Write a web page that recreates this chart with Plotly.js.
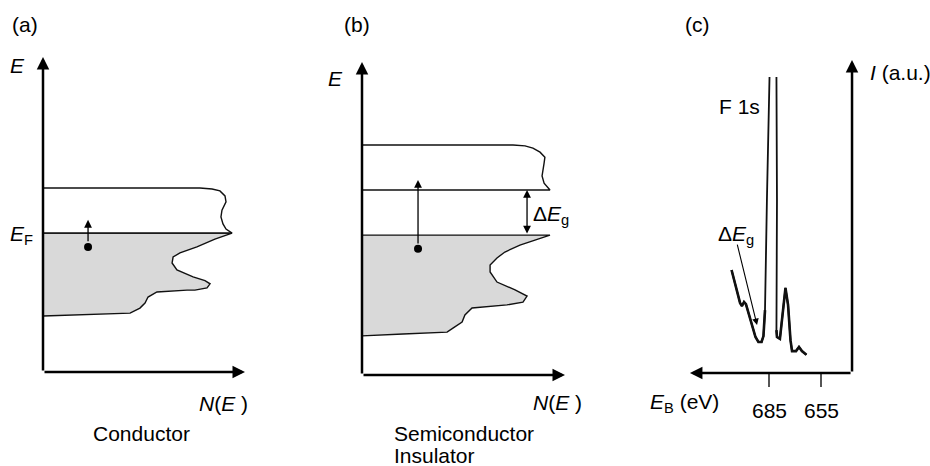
<!DOCTYPE html>
<html><head><meta charset="utf-8">
<script src="https://cdn.plot.ly/plotly-3.0.1.min.js"></script>
<style>html,body{margin:0;padding:0;background:#fff}</style>
</head><body><div id="chart" style="width:930px;height:466px"></div>
<script>
// ---------- DATA ----------
// Panel (a): conductor, density of states N(E) vs energy E (arbitrary units, axis length 100)
const condA_N = [0, 77.7, 83.7, 87.6, 90.1, 90.6, 88.6, 88.1, 89.1, 90.6, 93.6];
const condA_E = [58.4, 58.4, 58.1, 57.5, 55.9, 54.0, 51.4, 49.2, 47.0, 45.4, 44.1];
const fermiA_N = [0, 93.6];
const fermiA_E = [44.1, 44.1];
const valA_N = [0, 93.6, 85.1, 76.2, 67.8, 64.4, 63.9, 66.3, 74.3, 80.2, 82.7, 81.2, 75.2, 71.3, 56.4, 52.0, 50.5, 48.0, 43.1, 26.7, 0];
const valA_E = [44.1, 44.1, 42.2, 39.7, 37.8, 36.5, 34.6, 32.4, 30.2, 29.0, 28.0, 26.7, 26.0, 26.0, 25.4, 23.8, 21.9, 20.3, 18.7, 18.4, 17.8];
const electronA_N = [22.3];
const electronA_E = [39.7];
const exciteA_N = [22.3, 22.3];
const exciteA_E = [41.0, 48.3];

// Panel (b): semiconductor / insulator
const condB_N = [0, 74.4, 80.3, 84.2, 87.7, 90.1, 89.7, 89.2, 88.7, 89.7, 92.6, 0];
const condB_E = [73.5, 73.5, 73.2, 72.5, 71.2, 69.6, 67.7, 65.5, 63.6, 61.3, 59.1, 59.1];
const valB_N = [0, 92.6, 85.2, 77.8, 70.4, 66.5, 63.1, 63.1, 66.5, 75.4, 81.3, 79.3, 71.4, 54.2, 50.7, 49.3, 44.8, 41.9, 20.2, 0];
const valB_E = [44.7, 44.7, 43.1, 41.5, 39.3, 37.4, 35.1, 32.9, 29.7, 27.2, 25.2, 23.3, 22.4, 21.4, 19.2, 16.9, 15.0, 13.7, 13.1, 12.5];
const gapB_N = [81.3, 81.3];
const gapB_E = [44.7, 59.1];
const electronB_N = [27.6];
const electronB_E = [40.3];
const exciteB_N = [27.6, 27.6];
const exciteB_E = [41.5, 62.3];

// Panel (c): XPS spectrum, binding energy (eV) vs intensity (a.u.)
const specE = [706.6, 704.6, 702.9, 701.7, 700.6, 699.4, 698.3, 696.8, 694.8, 692.8, 691.1, 689.3, 688.2, 687.3, 686.2, 684.7, null,
               680.7, 680.4, 680.7, 680.4, 678.7, 676.9, 675.5, 674.0, 672.6, 671.7, 669.4, 667.7, 666.0, 663.4];
const specI = [32.9, 28.8, 24.6, 22.4, 21.4, 22.7, 22.0, 19.2, 14.7, 11.5, 9.9, 9.9, 11.8, 20.1, 55.3, 94.6, null,
               94.6, 55.3, 13.7, 11.5, 10.9, 20.1, 27.2, 21.7, 10.5, 7.0, 7.0, 8.3, 7.0, 5.8];
const tickVals = [685, 655];
const tickText = ['685', '655'];
const axisC_E = [637.1, 730.6];   // origin and arrow tip of the E_B axis
const gapC_E = [703.5, 691.9];
const gapC_I = [41.5, 15.3];

// ---------- LAYOUT HELPERS ----------
const W = 930, H = 466;
const FONT = 'Liberation Sans, Arial, Helvetica, sans-serif';
const FS = 21;
function xRange(left, right, p0, v0, s) { return [v0 + (left - p0) / s, v0 + (right - p0) / s]; }
function yRange(p0, s) { return [(p0 - H) / s, p0 / s]; }
const gA = {left: 0, right: 310, px0: 43, sx: 2.02, py0: 372, sy: 3.15};
const gB = {left: 310, right: 620, px0: 362, sx: 2.03, py0: 375, sy: 3.13};
const gC = {left: 620, right: 930, px0: 769, vx0: 685, sx: -52 / 30, py0: 373, sy: 3.13};

function ax(g, v0) {
  return {domain: [g.left / W, g.right / W], range: xRange(g.left, g.right, g.px0, v0, g.sx),
          visible: false, fixedrange: true};
}
function ay(g, anchor) {
  return {domain: [0, 1], range: yRange(g.py0, g.sy), visible: false, fixedrange: true, anchor: anchor};
}

function arrow(xr, yr, x0, y0, x1, y1, w, size, both) {
  return {xref: xr, yref: yr, axref: xr, ayref: yr, x: x1, y: y1, ax: x0, ay: y0,
          text: '', showarrow: true, arrowhead: 2, arrowsize: size, arrowwidth: w,
          arrowcolor: '#000', standoff: 0, startstandoff: 0,
          arrowside: both ? 'end+start' : 'end', startarrowhead: 2, startarrowsize: size};
}
function label(px, py, text, xa, opts) {
  return Object.assign({xref: 'paper', yref: 'paper', x: px / W, y: 1 - py / H, text: text,
          showarrow: false, xanchor: xa || 'center', yanchor: 'middle',
          font: {family: FONT, size: FS, color: '#000'}}, opts || {});
}

const lineBand = {color: '#111', width: 1.4};
// thick baseline part of the spectrum (low-intensity points), thinner flanks of the F 1s peak
const baseI = specI.map(v => (v !== null && v < 40) ? v : null);
const traces = [
  // panel a
  {x: valA_N, y: valA_E, xaxis: 'x', yaxis: 'y', mode: 'lines', fill: 'toself', fillcolor: '#d9d9d9', line: lineBand},
  {x: condA_N, y: condA_E, xaxis: 'x', yaxis: 'y', mode: 'lines', line: lineBand},
  {x: fermiA_N, y: fermiA_E, xaxis: 'x', yaxis: 'y', mode: 'lines', line: lineBand},
  {x: electronA_N, y: electronA_E, xaxis: 'x', yaxis: 'y', mode: 'markers', marker: {color: '#000', size: 8}},
  // panel b
  {x: valB_N, y: valB_E, xaxis: 'x2', yaxis: 'y2', mode: 'lines', fill: 'toself', fillcolor: '#d9d9d9', line: lineBand},
  {x: condB_N, y: condB_E, xaxis: 'x2', yaxis: 'y2', mode: 'lines', line: lineBand},
  {x: electronB_N, y: electronB_E, xaxis: 'x2', yaxis: 'y2', mode: 'markers', marker: {color: '#000', size: 8}},
  // panel c
  {x: specE, y: specI, xaxis: 'x3', yaxis: 'y3', mode: 'lines', connectgaps: false, line: {color: '#111', width: 1.8}},
  {x: specE, y: baseI, xaxis: 'x3', yaxis: 'y3', mode: 'lines', connectgaps: false, line: {color: '#111', width: 2.6}},
];
const tkx = [], tky = [];
tickVals.forEach(v => { tkx.push(v, v, null); tky.push(0, -4.5, null); });
traces.push({x: tkx, y: tky, xaxis: 'x3', yaxis: 'y3', mode: 'lines', line: {color: '#555', width: 2}});

const annotations = [
  arrow('x', 'y', 0, 0, 100, 0, 2.5, 1),
  arrow('x', 'y', 0, 0, 0, 100, 2.5, 1),
  arrow('x2', 'y2', 0, 0, 100, 0, 2.5, 1),
  arrow('x2', 'y2', 0, 0, 0, 100, 2.5, 1),
  arrow('x3', 'y3', axisC_E[0], 0, axisC_E[1], 0, 2.5, 1),
  arrow('x3', 'y3', axisC_E[0], 0, axisC_E[0], 100, 2.5, 1),
  arrow('x', 'y', exciteA_N[0], exciteA_E[0], exciteA_N[1], exciteA_E[1], 1.3, 1.2),
  arrow('x2', 'y2', exciteB_N[0], exciteB_E[0], exciteB_N[1], exciteB_E[1], 1.3, 1.2),
  arrow('x2', 'y2', gapB_N[0], gapB_E[0], gapB_N[1], gapB_E[1], 1.3, 1.2, true),
  arrow('x3', 'y3', gapC_E[0], gapC_I[0], gapC_E[1], gapC_I[1], 1.1, 1.2),
  label(25, 25, '(a)'),
  label(357, 25, '(b)'),
  label(697, 25, '(c)'),
  label(17, 66, '<i>E</i>'),
  label(335, 78, '<i>E</i>'),
  label(21, 235, '<i>E</i><sub>F</sub>'),
  label(223, 403, '<i>N</i>(<i>E</i> )'),
  label(557, 402, '<i>N</i>(<i>E</i> )'),
  label(141, 433, 'Conductor'),
  label(392, 433, 'Semiconductor', 'left'),
  label(392, 455, 'Insulator', 'left'),
  label(531, 215, 'Δ<i>E</i><sub>g</sub>', 'left'),
  label(739, 107, 'F 1s'),
  label(716, 235, 'Δ<i>E</i><sub>g</sub>', 'left'),
  label(868, 73, '<i>I</i> (a.u.)', 'left'),
  label(684, 403, '<i>E</i><sub>B</sub> (eV)'),
];
tickVals.forEach((v, i) => annotations.push({xref: 'x3', yref: 'y3', x: v, y: -12, text: tickText[i], showarrow: false,
  xanchor: 'center', yanchor: 'middle', font: {family: FONT, size: FS, color: '#000'}}));

const layout = {
  width: W, height: H, margin: {l: 0, r: 0, t: 0, b: 0},
  paper_bgcolor: '#fff', plot_bgcolor: 'rgba(0,0,0,0)', showlegend: false,
  xaxis: ax(gA, 0), yaxis: ay(gA, 'x'),
  xaxis2: ax(gB, 0), yaxis2: ay(gB, 'x2'),
  xaxis3: ax(gC, gC.vx0), yaxis3: ay(gC, 'x3'),
  annotations: annotations
};
Plotly.newPlot('chart', traces, layout, {displayModeBar: false, staticPlot: true});
</script></body></html>
